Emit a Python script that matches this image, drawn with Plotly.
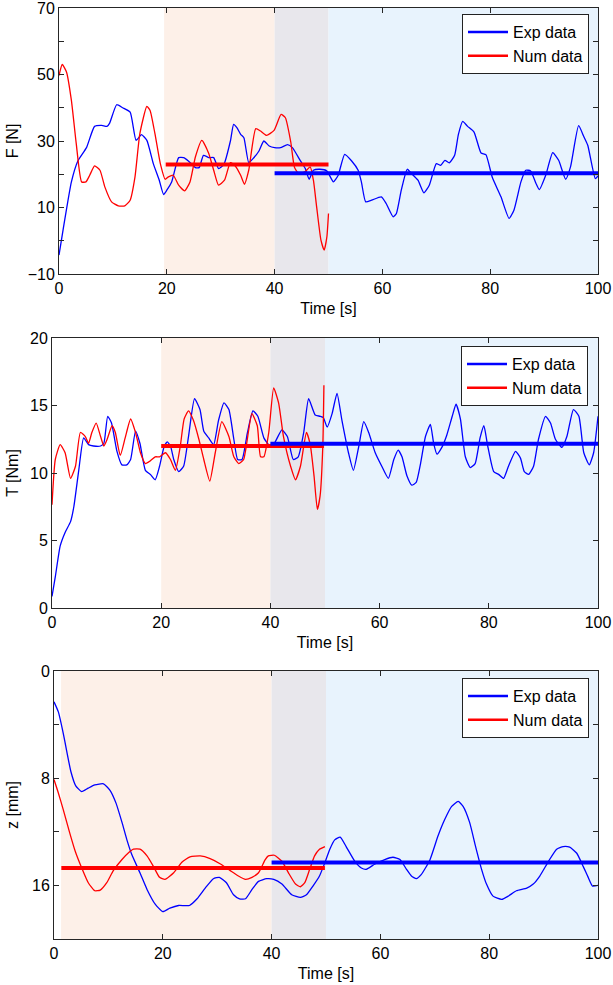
import plotly.graph_objects as go

# ---------------- data ----------------
# Panel 1: force F [N]
F_exp_t = [0, 0.75, 2.3, 3.5, 5.1, 6.6, 7.9, 8.9, 9.4, 10.7, 11.8, 13.2, 14.3, 15.3, 16.3, 17.5, 18.6, 19.4, 20,
           20.9, 22.2, 23.1, 24, 25.3, 26, 26.8, 27.8, 28.7, 29.6, 30.6, 31.8, 32.4, 33, 33.7, 34.3, 35.2, 36, 37.1,
           38, 39, 40, 41.1, 42.4, 43.3, 44.8, 45.7, 46.4, 47.2, 48.4, 49.7, 50.9, 51.8, 53, 54.3, 55.5, 56.1, 56.9,
           58, 59.8, 60.7, 62, 62.6, 63.5, 64.6, 65.4, 66.6, 67.7, 68.7, 70, 70.8, 71.6, 72.4, 73.4, 74.1, 74.9, 75.8,
           77, 78.3, 79.2, 80.4, 82, 83.5, 84.4, 85.7, 86.6, 87.5, 88.5, 89.1, 90.3, 91.6, 92.7, 94, 94.9, 96.4, 97.4,
           98.1, 99.5, 100]
F_exp = [-4.3, 3.2, 17.7, 24, 28, 34.4, 34.7, 34.4, 35.4, 40.9, 40, 38.7, 30.2, 31.9, 30.2, 23.2, 18.2, 13.9, 15.2,
         17.7, 25, 25, 24, 22, 22, 25.7, 25, 25, 21.7, 23, 30, 35, 34, 32, 31, 23.5, 24.7, 27,
         30, 28.5, 28, 28, 28.9, 28, 24, 21.7, 18.5, 21.2, 21.5, 21, 17.7, 19.7, 26, 24, 21.2, 17.7, 11.7,
         12.2, 13.2, 11.2, 7.2, 8.2, 15.2, 21.5, 20.2, 18.2, 14.4, 16.7, 23.2, 22.7, 24.2, 23.4, 25.7, 32, 35.9, 34.4,
         32.7, 26.4, 25.9, 19, 13.2, 6.7, 9.2, 17.7, 21.2, 21, 17.2, 15.4, 19.7, 26.5, 24.2, 18.5, 22.2, 34.6, 31.2,
         28.7, 18.7, 19.5]
F_num_t = [0, 0.6, 1.4, 2.3, 3.2, 4.2, 5, 5.7, 6.6, 7.6, 8.5, 9.75, 11, 12.2, 13.2, 14.1, 15, 16.3, 16.9, 17.8, 18.8,
           19.7, 20.3, 21.2, 22.2, 23.3, 24.3, 25.3, 26.5, 27.8, 28.7, 29.6, 30.7, 31.8, 32.7, 33.7, 34.4, 35.2,
           36.5, 37.4, 38.5, 39.9, 41.2, 42, 43, 43.7, 44.5, 45.6, 46.6, 47.2, 47.8, 48.6, 49.2, 49.7, 50]
F_num = [49.7, 53, 50.7, 42.2, 29.2, 17.7, 17.7, 19.7, 22.5, 21.2, 16.2, 11.7, 10.5, 10.5, 12.2, 19.2, 32.2, 40.4,
         39.2, 32.2, 23.2, 18.5, 19.2, 19.7, 16.7, 15, 17.7, 25.2, 30.2, 26.2, 21.2, 16.7, 18.2, 23.5, 22.5, 19.7,
         17, 21.2, 33.7, 33, 31.7, 33.2, 38, 37, 29.7, 22, 20.2, 20.7, 22.2, 18.2, 10.2, 0.2, -2.8, 1.2, 8.2]
F_num_mean, F_num_span = 22.9, [19.8, 50]
F_exp_mean, F_exp_span = 20.3, [40, 100]

# Panel 2: torque T [Nm]
T_exp_t = [0, 0.6, 1.5, 2.4, 3.4, 4, 4.9, 5.8, 6.7, 7.6, 8.9, 9.5, 10.2, 10.9, 11.9, 12.8, 13.7, 14.4, 15.3, 16.1,
           17.1, 18, 18.9, 19.7, 20.5, 21.1, 21.7, 22.3, 23.2, 24.1, 25, 26.1, 27.1, 27.8, 28.7, 29.6, 30.5, 31.5,
           32.4, 33.3, 34, 34.8, 35.8, 36.8, 37.7, 38.8, 39.7, 40.7, 42.1, 43.1, 44.2, 45.1, 46.1, 47, 48.2, 49.1,
           49.7, 50.4, 51.3, 52.2, 53.1, 54.3, 55.2, 56.2, 57.1, 58, 59.2, 60.4, 61.6, 62.6, 63.4, 64.1, 65, 65.9,
           66.7, 67.5, 68.4, 69.3, 69.9, 70.5, 71.4, 72.3, 73.3, 74, 74.8, 75.7, 76.6, 77.5, 78.4, 79.1, 79.8, 80.9,
           81.8, 82.7, 83.6, 84.9, 85.8, 86.5, 87.3, 88.2, 89.1, 90.4, 91.3, 92.2, 93.4, 94.3, 95.5, 96.5, 97.4,
           98.4, 99.2, 100]
T_exp = [0.86, 2.3, 4.6, 5.6, 6.4, 7.5, 10.2, 12.6, 12.1, 12, 12, 12.2, 14.2, 13.7, 11.6, 10.6, 10.6, 11, 13.1, 12.2,
         10.2, 9.9, 9.5, 10.5, 11.9, 12.3, 12, 11, 10.1, 10.5, 12.7, 15.5, 14.7, 13.1, 12.6, 12.1, 13.9, 15.2,
         14.7, 12.5, 11, 11, 13, 14.6, 14.2, 12.6, 12.1, 12.2, 13.2, 12.7, 11, 11.2, 13, 15.5, 14.3, 14.2,
         14.1, 13.4, 14.4, 15.9, 13.9, 11.5, 10.2, 12, 13.8, 13, 11.5, 10.5, 9.6, 11, 11.7, 11.2, 9.8, 9.1,
         9.3, 10.7, 12.7, 13.6, 12.2, 11.4, 11.9, 12.8, 14.2, 15.1, 14, 11.2, 10.4, 10.7, 12.6, 13.5, 12, 10.1,
         9.9, 9.6, 10.5, 11.6, 11.1, 10.1, 9.9, 10.5, 12.5, 14.2, 13.7, 12.5, 11.9, 12.7, 14.7, 14.2, 11.5,
         10.6, 11.5, 14.2]
T_num_t = [0, 0.6, 1.5, 2.4, 3.4, 4.3, 5.2, 6.1, 6.7, 7.3, 8.1, 8.9, 9.5, 10.1, 11, 11.6, 12.5, 13.4, 14.4, 15.3,
           16.2, 17.1, 18, 18.9, 19.7, 20.8, 21.7, 22.6, 23.5, 24.2, 25, 25.9, 26.9, 27.8, 28.9, 29.9, 31.1, 32.4,
           33.3, 34.2, 35.1, 36.6, 37.6, 38.2, 38.8, 39.7, 40.6, 41.5, 42.4, 43.7, 44.6, 45.5, 46.6, 47.3, 48,
           48.6, 49.1, 49.6, 49.8]
T_num = [7.65, 11, 12.1, 11.5, 9.6, 10.5, 13, 12.7, 12.2, 13, 13.7, 12.7, 12, 12.5, 13.5, 13, 11.3, 12.6, 14, 13,
         11.5, 10.7, 10.9, 11.2, 11.2, 11.5, 11, 10.2, 12, 14, 14.6, 13.9, 12.5, 11, 9.4, 11.5, 13.8, 12.7,
         11.2, 10.7, 11, 14.4, 13.5, 11.2, 11.2, 13, 16.3, 15.2, 12.7, 10.5, 9.5, 10.5, 13, 12.1, 9.75,
         7.3, 8.3, 12, 16.5]
T_num_mean, T_num_span = 12.0, [20, 49.8]
T_exp_mean, T_exp_span = 12.17, [40, 100]

# Panel 3: displacement z [mm]
z_exp_t = [0, 0.8, 1.7, 2.3, 3.1, 4, 5.1, 6.3, 7.5, 9.1, 10.3, 11.4, 12.5, 13.4, 14.3, 15.8, 17.1, 18.6, 20, 21.3,
           22.9, 24.9, 26.3, 27.8, 29.3, 30.4, 31.7, 33, 34.1, 35.2, 36.4, 37.6, 39.1, 40.4, 41.9, 43.7, 45.3,
           46.4, 47.6, 48.8, 49.8, 50.7, 51.6, 52.6, 53.7, 55.3, 56.5, 57.4, 59, 60.8, 62.3, 63.6, 64.8, 65.7,
           66.6, 67.5, 69.1, 70.6, 71.8, 73.1, 74.3, 75.2, 76.4, 77.5, 78.6, 79.5, 80.7, 82.3, 83.5, 85, 86.9,
           88.1, 89.3, 90.9, 92.4, 93.6, 94.8, 96.1, 97.3, 98.2, 99, 100]
z_exp = [2.3, 3.05, 4.65, 5.9, 7.5, 8.57, 9, 8.74, 8.5, 8.42, 8.9, 9.86, 11.3, 12.6, 13.7, 15.06, 16.3, 17.4, 17.96,
         17.7, 17.5, 17.5, 17, 16.2, 15.5, 15.4, 15.8, 16.7, 17, 17, 16.3, 15.7, 15.5, 15.55, 15.9, 16.7, 16.9,
         16.7, 16.05, 15.3, 14.3, 13.3, 12.6, 12.4, 13.1, 14.2, 14.7, 14.8, 14.4, 14.07, 13.9, 14.07, 14.8, 15.3,
         15.5, 15.2, 14.1, 12.3, 11.1, 10.1, 9.73, 10.1, 11.3, 13.1, 14.8, 15.9, 16.8, 17.04, 16.8, 16.4, 16.2,
         15.9, 15.3, 14.2, 13.3, 13.1, 13.15, 13.6, 14.6, 15.4, 16.05, 16]
z_num_t = [0, 0.8, 1.7, 2.9, 3.9, 5.1, 6.3, 7.5, 8.5, 9.7, 10.9, 12.5, 13.7, 14.6, 15.8, 17.1, 18.3, 19.4, 20.4, 22,
           23.5, 25, 26.9, 28.7, 30.6, 32.4, 33.9, 35.2, 36.4, 37.6, 38.8, 39.4, 40.5, 41.9, 43.1, 44.4, 45.3,
           46.1, 47, 47.9, 48.8, 49.8]
z_num = [8.1, 9.1, 10.35, 12.1, 13.45, 14.7, 15.8, 16.4, 16.35, 15.8, 14.9, 14.07, 13.57, 13.3, 13.3, 13.8, 14.6,
         15.4, 15.55, 15.06, 14.27, 13.87, 13.8, 14, 14.4, 14.9, 15.3, 15.55, 15.4, 15.06, 14.1, 13.8, 13.75,
         14.2, 15.06, 15.9, 16.1, 15.8, 14.8, 13.8, 13.3, 13.1]
z_num_mean, z_num_span = 14.7, [1.35, 49.8]
z_exp_mean, z_exp_span = 14.3, [40, 100]

# Shaded test phases [start, end]
F_regions = [[19.5, 40], [40, 50], [50, 100]]
T_regions = [[20, 40], [40, 50], [50, 100]]
z_regions = [[1.3, 40], [40, 50], [50, 100]]

# Axis ticks
x_ticks = [0, 20, 40, 60, 80, 100]
F_ticks = [-10, 0, 10, 20, 30, 40, 50, 60, 70]
F_ticklabels = ["\u221210", "", "10", "", "30", "", "50", "", "70"]
T_ticks = [0, 5, 10, 15, 20]
T_ticklabels = ["0", "5", "10", "15", "20"]
z_ticks = [0, 4, 8, 12, 16, 20]
z_ticklabels = ["0", "", "8", "", "16", ""]

# ---------------- figure ----------------
W, H = 613, 985
FONT = "Liberation Sans, Arial, Helvetica, sans-serif"
BLUE, RED = "#0000FF", "#FF0000"
REGION_COLORS = ["rgb(253,240,232)", "rgb(232,231,236)", "rgb(232,243,253)"]
AXC = "#262626"
FS = 16

panels = [
    dict(te=F_exp_t, ye=F_exp, tn=F_num_t, yn=F_num, nm=F_num_mean, ns=F_num_span, em=F_exp_mean, es=F_exp_span,
         reg=F_regions, yt=F_ticks, ytl=F_ticklabels, yr=[-10, 70], ylab="F [N]",
         xd=[59, 598], yd=[8, 274], leg=[589, 14], ystand=5),
    dict(te=T_exp_t, ye=T_exp, tn=T_num_t, yn=T_num, nm=T_num_mean, ns=T_num_span, em=T_exp_mean, es=T_exp_span,
         reg=T_regions, yt=T_ticks, ytl=T_ticklabels, yr=[0, 20], ylab="T [Nm]",
         xd=[52, 598], yd=[338, 608], leg=[588, 346], ystand=7),
    dict(te=z_exp_t, ye=z_exp, tn=z_num_t, yn=z_num, nm=z_num_mean, ns=z_num_span, em=z_exp_mean, es=z_exp_span,
         reg=z_regions, yt=z_ticks, ytl=z_ticklabels, yr=[20, 0], ylab="z [mm]",
         xd=[54, 598], yd=[671, 939], leg=[589, 678], ystand=9),
]

fig = go.Figure()
layout = dict(width=W, height=H, margin=dict(l=0, r=0, t=0, b=0, autoexpand=False), paper_bgcolor="white",
              plot_bgcolor="white", font=dict(family=FONT, size=FS, color="black"), showlegend=True)
shapes = []

for i, p in enumerate(panels, start=1):
    sx = "" if i == 1 else str(i)
    xa, ya = "x" + sx, "y" + sx
    lg = "legend" + sx
    line_kw = dict(shape="spline", smoothing=0.5)
    fig.add_trace(go.Scatter(x=p["te"], y=p["ye"], mode="lines", line=dict(color=BLUE, width=1.3, **line_kw),
                             xaxis=xa, yaxis=ya, showlegend=False, hoverinfo="skip"))
    fig.add_trace(go.Scatter(x=p["tn"], y=p["yn"], mode="lines", line=dict(color=RED, width=1.3, **line_kw),
                             xaxis=xa, yaxis=ya, showlegend=False, hoverinfo="skip"))
    fig.add_trace(go.Scatter(x=p["ns"], y=[p["nm"], p["nm"]], mode="lines", line=dict(color=RED, width=4),
                             xaxis=xa, yaxis=ya, showlegend=False, hoverinfo="skip"))
    fig.add_trace(go.Scatter(x=p["es"], y=[p["em"], p["em"]], mode="lines", line=dict(color=BLUE, width=4),
                             xaxis=xa, yaxis=ya, showlegend=False, hoverinfo="skip"))
    fig.add_trace(go.Scatter(x=[None], y=[None], mode="lines", line=dict(color=BLUE, width=2.5), name="Exp data",
                             xaxis=xa, yaxis=ya, legend=lg))
    fig.add_trace(go.Scatter(x=[None], y=[None], mode="lines", line=dict(color=RED, width=2.5), name="Num data",
                             xaxis=xa, yaxis=ya, legend=lg))

    for (a, b), c in zip(p["reg"], REGION_COLORS):
        shapes.append(dict(type="rect", xref=xa, yref=ya + " domain", x0=a, x1=b, y0=0, y1=1,
                           fillcolor=c, line=dict(width=0), layer="below"))

    common = dict(ticks="inside", ticklen=5, tickcolor=AXC, showline=True, linecolor=AXC, linewidth=1,
                  mirror="ticks", showgrid=False, zeroline=False, tickfont=dict(size=FS), automargin=False,
                  ticklabeloverflow="allow")
    layout["xaxis" + sx] = dict(domain=[p["xd"][0] / W, p["xd"][1] / W], anchor=ya, range=[0, 100],
                                tickvals=x_ticks,
                                title=dict(text="Time [s]", font=dict(size=FS), standoff=6), **common)
    layout["yaxis" + sx] = dict(domain=[1 - p["yd"][1] / H, 1 - p["yd"][0] / H], anchor=xa, range=p["yr"],
                                tickvals=p["yt"], ticktext=p["ytl"],
                                title=dict(text=p["ylab"], font=dict(size=FS), standoff=p["ystand"]), **common)
    layout[lg] = dict(x=p["leg"][0] / W, y=1 - p["leg"][1] / H, xanchor="right", yanchor="top",
                      bgcolor="white", bordercolor="#222222", borderwidth=1, itemwidth=40,
                      font=dict(size=FS, family=FONT), tracegroupgap=0)

layout["shapes"] = shapes
fig.update_layout(**layout)
fig.write_html("out.html", config={"displayModeBar": False, "staticPlot": True},
               post_script="document.body.style.margin='0';document.body.style.overflow='hidden';")
